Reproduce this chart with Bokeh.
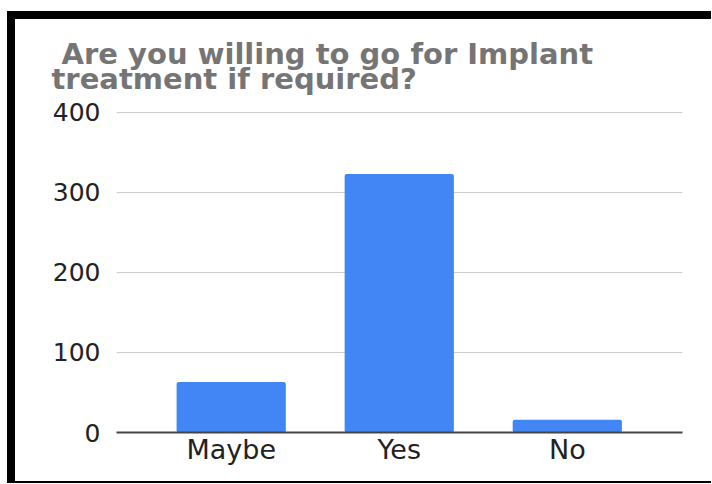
from bokeh.plotting import figure
from bokeh.models import Range1d, FixedTicker, Title
from bokeh.embed import file_html
from bokeh.resources import INLINE

categories = ["Maybe", "Yes", "No"]
counts = [63, 323, 16]
y_ticks = [0, 100, 200, 300, 400]
title_text = "\u00a0Are you willing to go for Implant\ntreatment if required?"

xs = list(range(len(categories)))

p = figure(width=704, height=472, output_backend="svg", toolbar_location=None,
           x_range=Range1d(-0.6826, 2.6855), y_range=Range1d(0, 401),
           min_border_left=101, min_border_right=37, min_border_top=90,
           min_border_bottom=59,
           styles={"border-left": "8px solid black", "border-top": "8px solid black",
                   "border-bottom": "2px solid black", "overflow": "hidden",
                   "margin-left": "7px", "margin-top": "11px"})
p.outline_line_color = None
p.background_fill_color = "white"
p.border_fill_color = "white"

p.vbar(x=xs, top=counts, width=0.65, bottom=0, fill_color="#4285F4",
       line_color=None, border_radius=2)

t = Title(text=title_text, text_font="DejaVu Sans", text_font_size="29px",
          text_font_style="bold", text_color="#757575", align="left",
          offset=-65, text_line_height=0.74, standoff=31)
p.add_layout(t, "above")

# y axis
p.yaxis.ticker = FixedTicker(ticks=y_ticks)
p.yaxis.axis_line_color = None
p.yaxis.major_tick_line_color = None
p.yaxis.minor_tick_line_color = None
p.yaxis.major_tick_out = 0
p.yaxis.major_tick_in = 0
p.yaxis.major_label_standoff = 16
p.yaxis.major_label_text_font = "DejaVu Sans"
p.yaxis.major_label_text_font_size = "25px"
p.yaxis.major_label_text_color = "#222222"

# x axis
p.xaxis.ticker = FixedTicker(ticks=xs)
p.xaxis.major_label_overrides = {i: c for i, c in enumerate(categories)}
p.xaxis.axis_line_color = "#444444"
p.xaxis.axis_line_width = 2
p.xaxis.major_tick_line_color = None
p.xaxis.minor_tick_line_color = None
p.xaxis.major_tick_out = 0
p.xaxis.major_tick_in = 0
p.xaxis.major_label_standoff = 1
p.xaxis.major_label_text_font = "DejaVu Sans"
p.xaxis.major_label_text_font_size = "27px"
p.xaxis.major_label_text_color = "#222222"

p.xgrid.grid_line_color = None
p.ygrid.ticker = FixedTicker(ticks=y_ticks[1:])
p.ygrid.grid_line_color = "#cccccc"
p.ygrid.grid_line_width = 1

open("out.html", "w").write(file_html(p, INLINE))
